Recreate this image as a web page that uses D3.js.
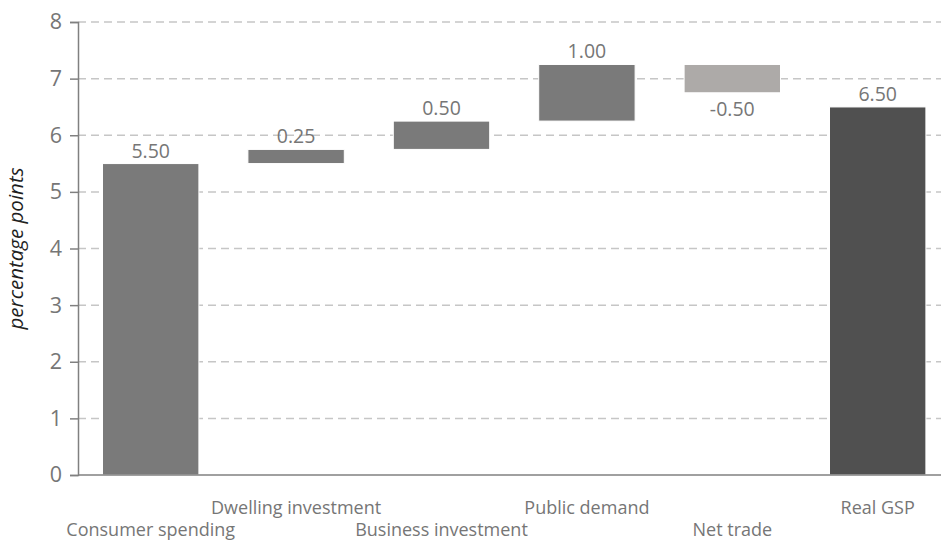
<!DOCTYPE html>
<html>
<head>
<meta charset="utf-8">
<script src="https://cdn.jsdelivr.net/npm/d3@7"></script>
<style>
  html, body { margin: 0; padding: 0; background: #fff; }
  svg { display: block; }
  text { font-family: "Open Sans", "DejaVu Sans", sans-serif; fill: #767676; }
</style>
</head>
<body>
<svg id="chart" width="941" height="541"></svg>
<script>
// Contributions to real GSP growth (percentage points)
const categories = ["Consumer spending", "Dwelling investment", "Business investment",
                    "Public demand", "Net trade", "Real GSP"];
const contributions = [5.50, 0.25, 0.50, 1.00, -0.50, 6.50];
const isTotal = [false, false, false, false, false, true];
const yTicks = [0, 1, 2, 3, 4, 5, 6, 7, 8];

const width = 941, height = 541;
const margin = { top: 22, left: 78, bottom: 66 };
const plotBottom = height - margin.bottom; // y of zero line

const svg = d3.select("#chart");

// Build waterfall segments: running total for components, from zero for the total
let running = 0;
const bars = categories.map((c, i) => {
  const v = contributions[i];
  let start, end;
  if (isTotal[i]) { start = 0; end = v; }
  else { start = running; end = running + v; running = end; }
  return { cat: c, value: v, start, end, total: isTotal[i], idx: i };
});

const x = d3.scaleBand()
  .domain(categories)
  .range([margin.left, margin.left + 6 * 145.4])
  .paddingInner(0.337)
  .paddingOuter(0.1685);

const y = d3.scaleLinear().domain([0, 8]).range([plotBottom, margin.top]);

// Dashed gridlines
svg.append("g")
  .selectAll("line")
  .data(yTicks.filter(t => t > 0))
  .join("line")
  .attr("x1", margin.left).attr("x2", width)
  .attr("y1", d => y(d)).attr("y2", d => y(d))
  .attr("stroke", "#c6c6c6")
  .attr("stroke-width", 1.5)
  .attr("stroke-dasharray", "8,5");

// Bars
const fillFor = d => d.total ? "#505050" : (d.value < 0 ? "#adaaa8" : "#7a7a7a");
svg.append("g")
  .selectAll("rect")
  .data(bars)
  .join("rect")
  .attr("x", d => x(d.cat))
  .attr("width", x.bandwidth())
  .attr("y", d => y(Math.max(d.start, d.end)))
  .attr("height", d => Math.abs(y(d.start) - y(d.end)))
  .attr("fill", fillFor)
  .attr("stroke", "#ffffff")
  .attr("stroke-width", 1);

// Value labels: above for positive, below for negative (plain hyphen for the sign)
const fmt = v => (v < 0 ? "-" : "") + Math.abs(v).toFixed(2);
svg.append("g")
  .selectAll("text")
  .data(bars)
  .join("text")
  .attr("x", d => x(d.cat) + x.bandwidth() / 2)
  .attr("y", d => d.value >= 0 ? y(Math.max(d.start, d.end)) - 6 : y(Math.min(d.start, d.end)) + 23)
  .attr("text-anchor", "middle")
  .attr("font-size", 19.5)
  .text(d => fmt(d.value));

// Zero line across the plot
svg.append("line")
  .attr("x1", margin.left).attr("x2", width)
  .attr("y1", y(0)).attr("y2", y(0))
  .attr("stroke", "#808080").attr("stroke-width", 1.5);

// Y axis
const yAxis = svg.append("g")
  .attr("transform", `translate(${margin.left},0)`)
  .call(d3.axisLeft(y).tickValues(yTicks).tickSize(8).tickPadding(8).tickFormat(d3.format("d")));
yAxis.select(".domain").attr("stroke", "#808080").attr("stroke-width", 1.5);
yAxis.selectAll(".tick line").attr("stroke", "#808080").attr("stroke-width", 1.5);
yAxis.selectAll(".tick text")
  .attr("font-size", 21.5)
  .attr("font-family", "\"Open Sans\", sans-serif")
  .attr("fill", "#767676");

// Category labels on two staggered rows
svg.append("g")
  .selectAll("text")
  .data(bars)
  .join("text")
  .attr("x", d => x(d.cat) + x.bandwidth() / 2)
  .attr("y", d => d.idx % 2 === 1 ? 514 : 536)
  .attr("text-anchor", "middle")
  .attr("font-size", 18)
  .text(d => d.cat);

// Y axis title
svg.append("text")
  .attr("transform", `translate(23,${(y(0) + y(8)) / 2}) rotate(-90)`)
  .attr("text-anchor", "middle")
  .attr("font-size", 20.5)
  .attr("font-style", "italic")
  .style("fill", "#1e1e1e")
  .text("percentage points");
</script>
</body>
</html>
